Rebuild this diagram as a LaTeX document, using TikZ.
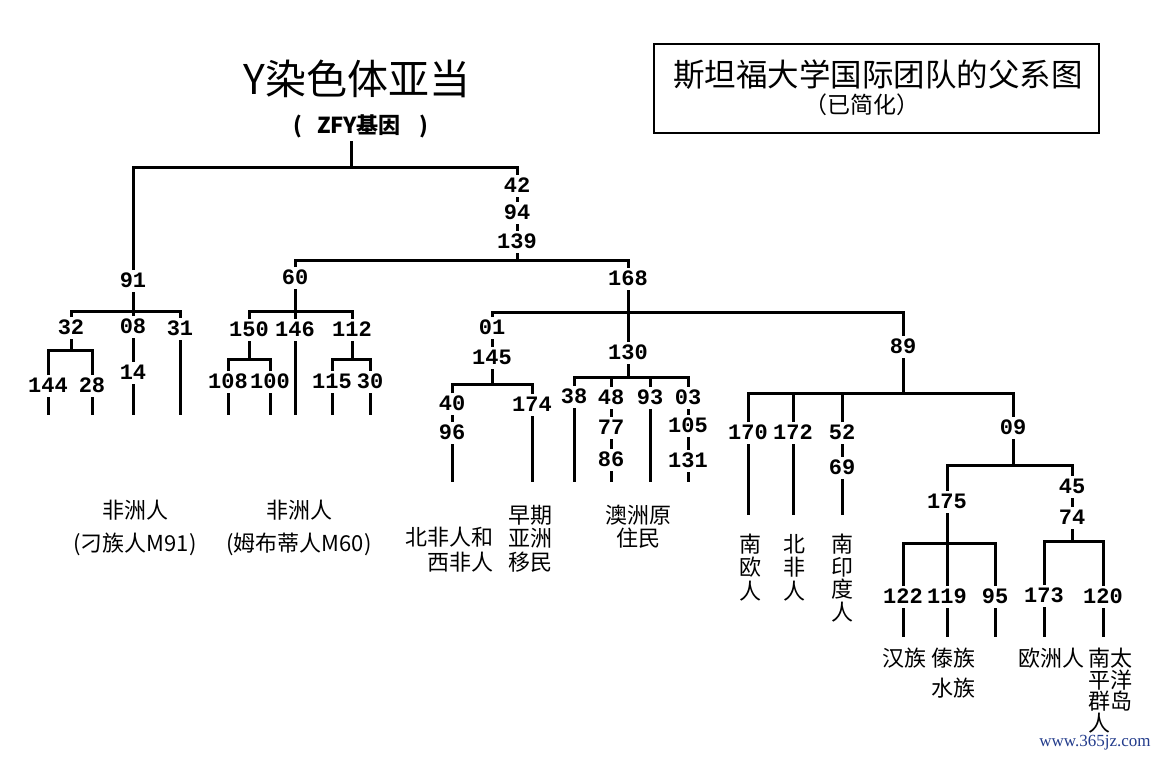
\documentclass[tikz,border=0pt]{standalone}
\usepackage{fontspec}
\setmainfont{Noto Sans CJK SC}
\newfontfamily\numfont{Liberation Mono}
\newfontfamily\wmfont{Liberation Serif}
\definecolor{wmblue}{RGB}{35,60,140}
\begin{document}
\begin{tikzpicture}[x=1pt,y=-1pt,line width=3pt,
  num/.style={font=\numfont\bfseries\fontsize{22}{22}\selectfont,text height=13pt,text depth=0pt,inner sep=3pt},
  lbl/.style={font=\fontsize{22}{23.5}\selectfont,align=center,inner sep=0pt},
  boxframe/.style={draw,line width=2pt,minimum width=445pt,minimum height=89pt,inner sep=0pt}]
\fill[white] (0,0) rectangle (1160,760);
\useasboundingbox (0,0) rectangle (1160,760);

% title
\node[font=\fontsize{41}{41}\selectfont,inner sep=0pt] (title) at (357,79) {Y染色体亚当};
\node[font=\bfseries\fontsize{22}{22}\selectfont,inner sep=2pt] (zfy) at (361,126) {(\hspace{15pt}ZFY基因\hspace{19pt})};

% box
\node[boxframe] (box) at (876.5,88.5) {};
\node[font=\fontsize{31.5}{31.5}\selectfont,inner sep=0pt] (boxt) at (878,75) {斯坦福大学国际团队的父系图};
\node[font=\fontsize{23}{23}\selectfont,inner sep=0pt] (boxs) at (862,105) {（已简化）};

% numbers
\node[num] (n91) at (133,281) {91};
\node[num] (n42) at (517,186) {42};
\node[num] (n94) at (517,213) {94};
\node[num] (n139) at (517,242) {139};
\node[num] (n60) at (295,278) {60};
\node[num] (n168) at (628,279) {168};
\node[num] (n32) at (71,328) {32};
\node[num] (n08) at (133,327) {08};
\node[num] (n31) at (180,329) {31};
\node[num] (n144) at (48,386) {144};
\node[num] (n28) at (92,386) {28};
\node[num] (n14) at (133,373) {14};
\node[num] (n150) at (249,330) {150};
\node[num] (n146) at (295,330) {146};
\node[num] (n112) at (352,330) {112};
\node[num] (n108) at (228,382) {108};
\node[num] (n100) at (270,382) {100};
\node[num] (n115) at (332,382) {115};
\node[num] (n30) at (370,382) {30};
\node[num] (n01) at (492,328) {01};
\node[num] (n145) at (492,358) {145};
\node[num] (n40) at (452,404) {40};
\node[num] (n96) at (452,433) {96};
\node[num] (n174) at (532,405) {174};
\node[num] (n130) at (628,353) {130};
\node[num] (n38) at (574,397) {38};
\node[num] (n48) at (611,398) {48};
\node[num] (n77) at (611,428) {77};
\node[num] (n86) at (611,460) {86};
\node[num] (n93) at (650,398) {93};
\node[num] (n03) at (688,398) {03};
\node[num] (n105) at (688,426) {105};
\node[num] (n131) at (688,461) {131};
\node[num] (n89) at (903,347) {89};
\node[num] (n170) at (748,433) {170};
\node[num] (n172) at (793,433) {172};
\node[num] (n52) at (842,433) {52};
\node[num] (n69) at (842,468) {69};
\node[num] (n09) at (1013,428) {09};
\node[num] (n175) at (947,502) {175};
\node[num] (n45) at (1072,487) {45};
\node[num] (n74) at (1072,518) {74};
\node[num] (n122) at (903,597) {122};
\node[num] (n119) at (947,597) {119};
\node[num] (n95) at (995,597) {95};
\node[num] (n173) at (1044,596) {173};
\node[num] (n120) at (1103,597) {120};

% junction coordinates
\coordinate (rootbar) at (351,167);
\coordinate (bar139) at (517,260);
\coordinate (bar91) at (133,311);
\coordinate (bar32) at (71,350);
\coordinate (bar60) at (295,311);
\coordinate (bar150) at (249,359);
\coordinate (bar112) at (352,359);
\coordinate (bar168) at (628,312);
\coordinate (bar145) at (492,384);
\coordinate (bar130) at (628,377);
\coordinate (bar89) at (903,393);
\coordinate (bar09) at (1013,465);
\coordinate (bar175) at (947,543);
\coordinate (bar74) at (1072,541);

% leaf ends
\coordinate (e144) at (48,415);
\coordinate (e28) at (92,415);
\coordinate (e14) at (133,415);
\coordinate (e31) at (180,415);
\coordinate (e108) at (228,415);
\coordinate (e100) at (270,415);
\coordinate (e146) at (295,415);
\coordinate (e115) at (332,415);
\coordinate (e30) at (370,415);
\coordinate (e96) at (452,482);
\coordinate (e174) at (532,482);
\coordinate (e38) at (574,482);
\coordinate (e86) at (611,482);
\coordinate (e93) at (650,482);
\coordinate (e131) at (688,482);
\coordinate (e170) at (748,515);
\coordinate (e172) at (793,515);
\coordinate (e69) at (842,515);
\coordinate (e122) at (903,637);
\coordinate (e119) at (947,637);
\coordinate (e95) at (995,637);
\coordinate (e173) at (1044,637);
\coordinate (e120) at (1103,637);

% root
\draw (zfy.south -| rootbar) -- (rootbar);
\draw (n91.north) |- (rootbar) -| (n42.north);
\draw (n42.south) -- (n94.north);
\draw (n94.south) -- (n139.north);
\draw (n139.south) -- (bar139);
\draw (n60.north) |- (bar139) -| (n168.north);

% 91 branch
\draw (n91.south) -- (bar91);
\draw (n32.north) |- (bar91) -| (n31.north);
\draw (n08.north) -- (bar91);
\draw (n32.south) -- (bar32);
\draw (n144.north) |- (bar32) -| (n28.north);
\draw (n144.south) -- (e144);
\draw (n28.south) -- (e28);
\draw (n08.south) -- (n14.north);
\draw (n14.south) -- (e14);
\draw (n31.south) -- (e31);

% 60 branch
\draw (n60.south) -- (n146.north);
\draw (n150.north) |- (bar60) -| (n112.north);
\draw (n150.south) -- (bar150);
\draw (n108.north) |- (bar150) -| (n100.north);
\draw (n112.south) -- (bar112);
\draw (n115.north) |- (bar112) -| (n30.north);
\draw (n108.south) -- (e108);
\draw (n100.south) -- (e100);
\draw (n146.south) -- (e146);
\draw (n115.south) -- (e115);
\draw (n30.south) -- (e30);

% 168 branch
\draw (n168.south) -- (n130.north);
\draw (n01.north) |- (bar168) -| (n89.north);
\draw (n01.south) -- (n145.north);
\draw (n145.south) -- (bar145);
\draw (n40.north) |- (bar145) -| (n174.north);
\draw (n40.south) -- (n96.north);
\draw (n96.south) -- (e96);
\draw (n174.south) -- (e174);
\draw (n130.south) -- (bar130);
\draw (n38.north) |- (bar130) -| (n03.north);
\draw (n48.north) -- (n48.north |- bar130);
\draw (n93.north) -- (n93.north |- bar130);
\draw (n38.south) -- (e38);
\draw (n48.south) -- (n77.north);
\draw (n77.south) -- (n86.north);
\draw (n86.south) -- (e86);
\draw (n93.south) -- (e93);
\draw (n03.south) -- (n105.north);
\draw (n105.south) -- (n131.north);
\draw (n131.south) -- (e131);

% 89 branch
\draw (n89.south) -- (bar89);
\draw (n170.north) |- (bar89) -| (n09.north);
\draw (n172.north) -- (n172.north |- bar89);
\draw (n52.north) -- (n52.north |- bar89);
\draw (n170.south) -- (e170);
\draw (n172.south) -- (e172);
\draw (n52.south) -- (n69.north);
\draw (n69.south) -- (e69);
\draw (n09.south) -- (bar09);
\draw (n175.north) |- (bar09) -| (n45.north);
\draw (n45.south) -- (n74.north);
\draw (n175.south) -- (n119.north);
\draw (n122.north) |- (bar175) -| (n95.north);
\draw (n74.south) -- (bar74);
\draw (n173.north) |- (bar74) -| (n120.north);
\draw (n122.south) -- (e122);
\draw (n119.south) -- (e119);
\draw (n95.south) -- (e95);
\draw (n173.south) -- (e173);
\draw (n120.south) -- (e120);

% population labels
\node[lbl,font=\fontsize{22}{33}\selectfont] (a91) at (135,528) {非洲人\\(刁族人M91)};
\node[lbl,font=\fontsize{22}{33}\selectfont] (a60) at (299,528) {非洲人\\(姆布蒂人M60)};
\node[lbl,font=\fontsize{22}{25}\selectfont,align=right,anchor=east] (anw) at (495,549.5) {北非人和\\西非人};
\node[lbl] (aasia) at (530,538.5) {早期\\亚洲\\移民};
\node[lbl,font=\fontsize{22}{23}\selectfont] (aaus) at (638,526.5) {澳洲原\\住民};
\node[lbl] (aseu) at (750,567.5) {南\\欧\\人};
\node[lbl] (anaf) at (794,567.5) {北\\非\\人};
\node[lbl,font=\fontsize{22}{22.7}\selectfont] (asin) at (842,578) {南\\印\\度\\人};
\node[lbl] (ahan) at (904,658) {汉族};
\node[lbl,font=\fontsize{22}{30}\selectfont] (adai) at (953,673) {傣族\\水族};
\node[lbl] (aeur) at (1051,658) {欧洲人};
\node[lbl,font=\fontsize{22}{21.7}\selectfont,align=left,anchor=west] (apac) at (1087,690.5) {南太\\平洋\\群岛\\人};

% watermark
\node[font=\wmfont\fontsize{17}{17}\selectfont,text=wmblue,inner sep=0pt] (wm) at (1095,743) {www.365jz.com};
\end{tikzpicture}
\end{document}
